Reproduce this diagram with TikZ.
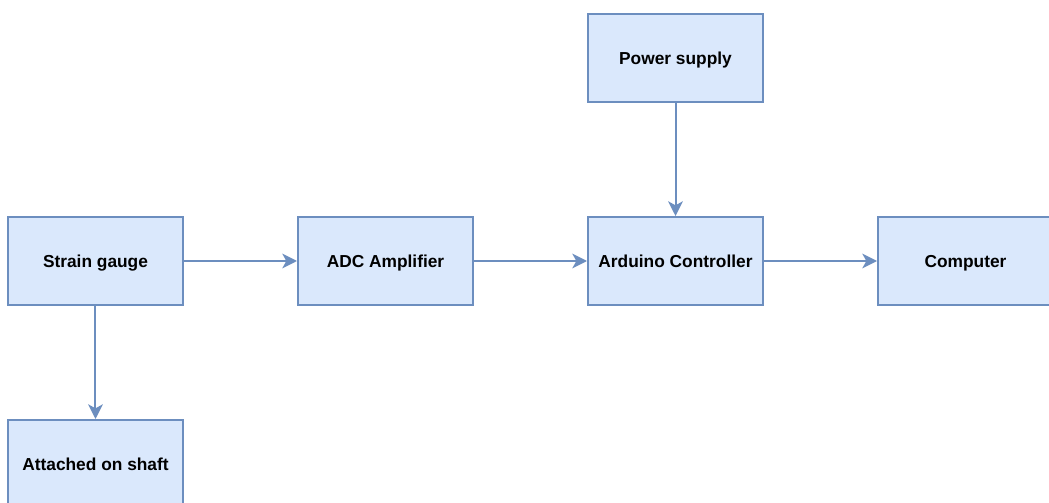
\documentclass[tikz,border=0pt]{standalone}
\usepackage{fontspec}
\setmainfont{Liberation Sans}
\usepackage{xcolor}
\usepackage{tikz}
\usetikzlibrary{arrows.meta,positioning}
\definecolor{boxfill}{HTML}{DAE8FC}
\definecolor{boxline}{HTML}{6C8EBF}

\begin{document}
\begin{tikzpicture}[
    x=0.75pt, y=0.75pt,
    font=\fontsize{13}{15}\selectfont\bfseries,
    node distance=84.75pt and 84.75pt,
    block/.style={draw=boxline, fill=boxfill, line width=1.5pt, align=center, minimum width=131.25pt, minimum height=66pt, inner sep=4pt, text height=12.5pt, text depth=3pt},
    arrow/.style={-{Stealth[length=11pt,width=11pt,inset=3pt]}, draw=boxline, line width=1.5pt}
]
\useasboundingbox (-95.5,261) rectangle (953.5,-242);
\clip (-95.5,261) rectangle (953.5,-242);
\node[block] (strain) at (0,0) {Strain gauge};
\node[block, right=of strain] (adc) {ADC Amplifier};
\node[block, right=of adc] (arduino) {Arduino Controller};
\node[block, right=of arduino] (computer) {Computer};
\node[block, above=of arduino] (power) {Power supply};
\node[block, below=of strain] (shaft) {Attached on shaft};
\draw[arrow] (strain) -- (adc);
\draw[arrow] (adc) -- (arduino);
\draw[arrow] (arduino) -- (computer);
\draw[arrow] (power) -- (arduino);
\draw[arrow] (strain) -- (shaft);
\end{tikzpicture}
\end{document}
